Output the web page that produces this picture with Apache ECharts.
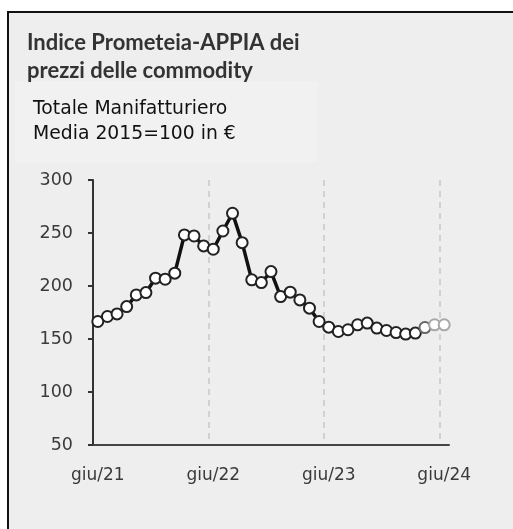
<!DOCTYPE html>
<html>
<head>
<meta charset="utf-8">
<script src="https://cdn.jsdelivr.net/npm/echarts@6/dist/echarts.min.js"></script>
<style>
html,body{margin:0;padding:0;background:#fff;width:513px;height:529px;overflow:hidden;}
#panel{position:absolute;left:7px;top:11px;width:520px;height:530px;background:#eeeeee;border-left:2px solid #111;border-top:2px solid #111;}
#sub{position:absolute;left:15px;top:81px;width:303px;height:81px;background:#f1f1f1;}
#chart{position:absolute;left:0;top:0;width:513px;height:529px;}
</style>
</head>
<body>
<div id="panel"></div>
<div id="sub"></div>
<div id="chart"></div>
<script>
const titleLines = ['Indice Prometeia-APPIA dei', 'prezzi delle commodity'];
const subtitleLines = ['Totale Manifatturiero', 'Media 2015=100 in €'];
const months = [
  'giu/21','lug/21','ago/21','set/21','ott/21','nov/21','dic/21',
  'gen/22','feb/22','mar/22','apr/22','mag/22','giu/22','lug/22','ago/22','set/22','ott/22','nov/22','dic/22',
  'gen/23','feb/23','mar/23','apr/23','mag/23','giu/23','lug/23','ago/23','set/23','ott/23','nov/23','dic/23',
  'gen/24','feb/24','mar/24','apr/24','mag/24','giu/24'
];
const values = [
  166.5, 171.2, 173.7, 180.6, 191.6, 193.8, 207.4, 206.4, 212.1, 248.2, 247.2, 237.8,
  234.7, 251.9, 268.6, 240.9, 205.8, 203.2, 213.6, 190.0, 194.2, 186.9, 179.1, 166.5,
  161.2, 157.1, 158.7, 163.4, 165.0, 160.3, 158.0, 156.1, 154.6, 155.6, 160.8, 163.4, 163.4
];
// border shade of the final (provisional) points, oldest first
const provisionalShades = ['#666666', '#a8a8a8', '#a8a8a8'];
const yMin = 50, yMax = 300, yStep = 50;
const monthsPerYear = 12;

const chart = echarts.init(document.getElementById('chart'), null, {renderer: 'canvas'});
const firstProvisional = values.length - provisionalShades.length;
const seriesData = values.map((v, i) => {
  if (i >= firstProvisional) {
    return {value: v, itemStyle: {borderColor: provisionalShades[i - firstProvisional]}};
  }
  return v;
});
chart.setOption({
  backgroundColor: 'transparent',
  animation: false,
  title: [
    {
      text: titleLines.join('\n'),
      left: 27, top: 29, padding: 0,
      textStyle: {fontFamily: 'Lato', fontWeight: 'bold', fontSize: 22, lineHeight: 28, color: '#333'}
    },
    {
      text: subtitleLines.join('\n'),
      left: 33, top: 97, padding: 0,
      textStyle: {fontFamily: 'DejaVu Sans', fontWeight: 'normal', fontSize: 18.8, lineHeight: 25, color: '#111'}
    }
  ],
  grid: {left: 93, right: 64, top: 180, bottom: 84, containLabel: false},
  xAxis: {
    type: 'category',
    data: months,
    boundaryGap: true,
    axisLine: {lineStyle: {color: '#444', width: 2}},
    axisTick: {show: false},
    axisLabel: {
      interval: monthsPerYear - 1, margin: 22,
      fontFamily: 'DejaVu Sans', fontSize: 17, color: '#3a3a3a'
    },
    splitLine: {
      show: true,
      interval: monthsPerYear - 1,
      showMinLine: false,
      showMaxLine: false,
      lineStyle: {color: '#c8c8c8', type: [6, 5], width: 1.5}
    }
  },
  yAxis: {
    type: 'value',
    min: yMin, max: yMax, interval: yStep,
    axisLine: {show: true, lineStyle: {color: '#333', width: 2}},
    axisTick: {show: true, length: 5, lineStyle: {color: '#333', width: 2}},
    axisLabel: {margin: 20, fontFamily: 'DejaVu Sans', fontSize: 17.5, color: '#3a3a3a'},
    splitLine: {show: false}
  },
  series: [{
    type: 'line',
    data: seriesData,
    symbol: 'circle',
    symbolSize: 11,
    showAllSymbol: true,
    lineStyle: {color: '#111', width: 3.5},
    itemStyle: {color: '#fff', borderColor: '#222', borderWidth: 2},
    z: 5
  }]
});
</script>
</body>
</html>
